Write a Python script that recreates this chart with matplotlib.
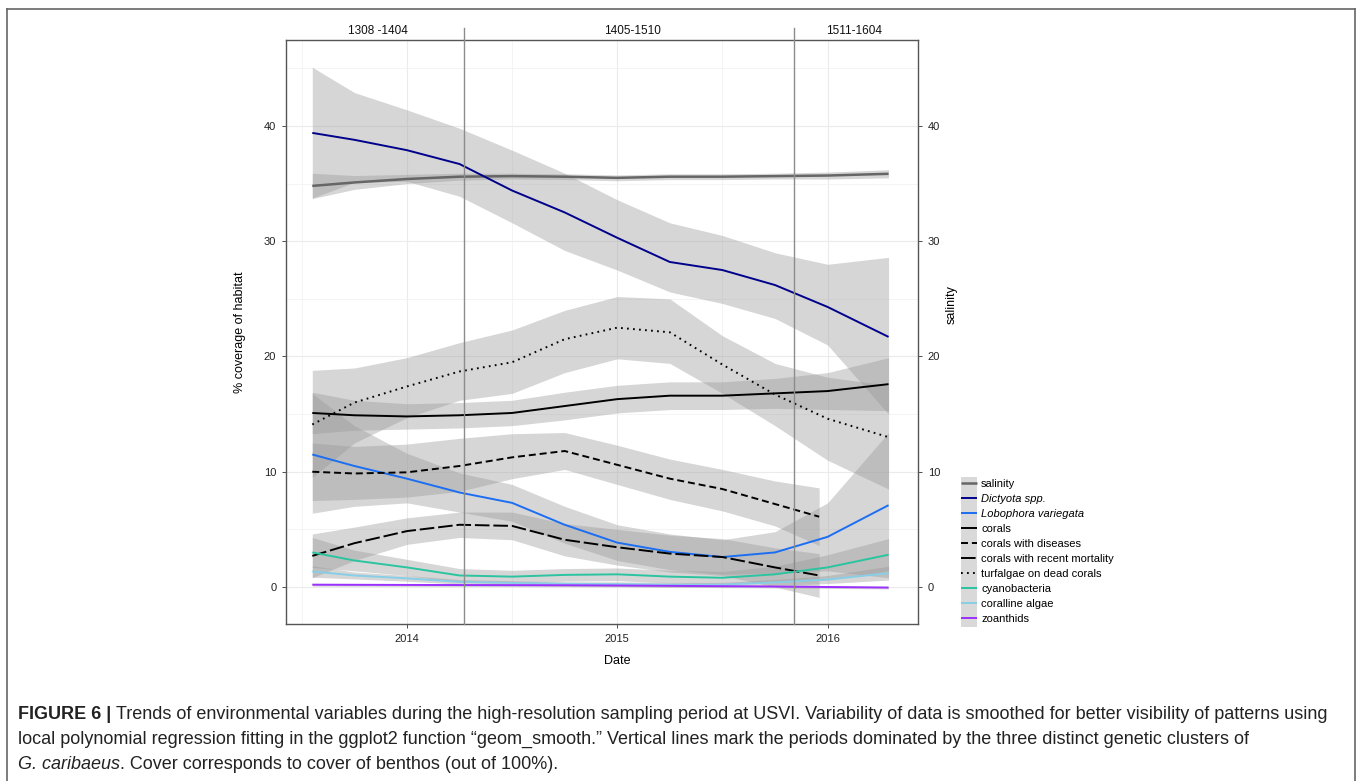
import numpy as np
import matplotlib
matplotlib.use('Agg')
import matplotlib.pyplot as plt
from matplotlib.lines import Line2D
from matplotlib.patches import Rectangle

plt.rcParams['font.family'] = ['Liberation Sans', 'DejaVu Sans']

W, H, DPI = 1360, 781, 100

# ---------------- data (decimal years) ----------------
t_full = [2013.55, 2013.75, 2014.0, 2014.25, 2014.5, 2014.75, 2015.0, 2015.25, 2015.5, 2015.75, 2016.0, 2016.29]
t_short = [2013.55, 2013.75, 2014.0, 2014.25, 2014.5, 2014.75, 2015.0, 2015.25, 2015.5, 2015.75, 2015.96]

salinity = [34.8, 35.1, 35.4, 35.6, 35.65, 35.6, 35.5, 35.6, 35.6, 35.65, 35.7, 35.85]
salinity_lo = [33.7, 34.5, 35.0, 35.3, 35.4, 35.35, 35.25, 35.35, 35.35, 35.4, 35.4, 35.5]
salinity_hi = [35.9, 35.7, 35.8, 35.9, 35.9, 35.85, 35.75, 35.85, 35.85, 35.9, 36.0, 36.2]

dictyota = [39.4, 38.8, 37.9, 36.7, 34.4, 32.5, 30.3, 28.2, 27.5, 26.2, 24.3, 21.7]
dictyota_lo = [33.75, 35.1, 35.2, 33.9, 31.6, 29.2, 27.5, 25.6, 24.6, 23.3, 21.0, 15.0]
dictyota_hi = [45.1, 42.9, 41.4, 39.8, 37.9, 35.9, 33.6, 31.6, 30.5, 29.0, 28.0, 28.6]

lobophora = [11.5, 10.5, 9.4, 8.2, 7.3, 5.4, 3.85, 3.05, 2.6, 3.0, 4.35, 7.1]
lobophora_lo = [6.4, 7.0, 7.3, 6.5, 5.7, 3.8, 2.3, 1.5, 1.1, 1.2, 1.4, 0.8]
lobophora_hi = [16.8, 14.0, 11.6, 9.9, 8.9, 7.0, 5.4, 4.6, 4.1, 4.8, 7.3, 13.4]

corals = [15.1, 14.9, 14.8, 14.9, 15.1, 15.7, 16.3, 16.6, 16.6, 16.8, 17.0, 17.6]
corals_lo = [13.3, 13.6, 13.7, 13.8, 14.0, 14.5, 15.1, 15.4, 15.4, 15.5, 15.4, 15.3]
corals_hi = [16.9, 16.2, 15.9, 16.0, 16.2, 16.9, 17.5, 17.8, 17.8, 18.1, 18.6, 19.9]

diseases = [10.0, 9.85, 9.95, 10.5, 11.25, 11.8, 10.6, 9.4, 8.5, 7.2, 6.1]
diseases_lo = [7.5, 7.6, 7.8, 8.3, 9.4, 10.2, 8.9, 7.6, 6.6, 5.3, 3.6]
diseases_hi = [12.5, 12.2, 12.4, 12.9, 13.3, 13.4, 12.3, 11.1, 10.2, 9.2, 8.6]

mortality = [2.7, 3.8, 4.85, 5.4, 5.3, 4.1, 3.45, 2.9, 2.6, 1.7, 1.0]
mortality_lo = [0.8, 2.3, 3.7, 4.3, 4.1, 2.7, 1.9, 1.3, 1.0, 0.0, -0.9]
mortality_hi = [4.6, 5.2, 6.0, 6.5, 6.5, 5.5, 5.0, 4.5, 4.2, 3.4, 2.9]

turf = [14.1, 16.0, 17.4, 18.7, 19.5, 21.5, 22.5, 22.1, 19.3, 16.7, 14.6, 13.0]
turf_lo = [9.5, 12.5, 14.7, 16.2, 16.8, 18.6, 19.8, 19.4, 16.8, 14.0, 11.0, 8.5]
turf_hi = [18.8, 19.0, 19.9, 21.2, 22.3, 24.0, 25.2, 25.0, 21.8, 19.4, 18.2, 17.5]

cyano = [3.0, 2.3, 1.7, 1.0, 0.9, 1.05, 1.1, 0.9, 0.8, 1.1, 1.7, 2.8]
cyano_lo = [1.7, 1.4, 1.0, 0.4, 0.35, 0.5, 0.55, 0.35, 0.25, 0.4, 0.6, 1.4]
cyano_hi = [4.3, 3.2, 2.4, 1.6, 1.45, 1.6, 1.65, 1.45, 1.35, 1.8, 2.8, 4.2]

coralline = [1.35, 1.0, 0.75, 0.45, 0.35, 0.28, 0.25, 0.2, 0.2, 0.4, 0.65, 1.2]
coralline_lo = [0.85, 0.7, 0.5, 0.25, 0.15, 0.1, 0.05, 0.0, 0.0, 0.15, 0.3, 0.6]
coralline_hi = [1.85, 1.3, 1.0, 0.65, 0.55, 0.45, 0.45, 0.4, 0.4, 0.65, 1.0, 1.8]

zoanthids = [0.2, 0.19, 0.18, 0.17, 0.16, 0.15, 0.13, 0.1, 0.07, 0.04, 0.0, -0.05]
zoanthids_lo = [0.08, 0.07, 0.06, 0.05, 0.04, 0.03, 0.01, -0.02, -0.05, -0.08, -0.12, -0.17]
zoanthids_hi = [0.32, 0.31, 0.30, 0.29, 0.28, 0.27, 0.25, 0.22, 0.19, 0.16, 0.12, 0.07]

cluster_breaks = [2014.27, 2015.84]
cluster_labels = ['1308 -1404', '1405-1510', '1511-1604']
cluster_label_x = [2013.862, 2015.071, 2016.128]

year_ticks = [2014, 2015, 2016]
year_labels = ['2014', '2015', '2016']

legend_labels = ['salinity', 'Dictyota spp.', 'Lobophora variegata', 'corals',
                 'corals with diseases', 'corals with recent mortality',
                 'turfalgae on dead corals', 'cyanobacteria', 'coralline algae', 'zoanthids']

# ---------------- styles ----------------
series = [
    (t_full, salinity, salinity_lo, salinity_hi, dict(color='#666666', lw=1.8)),
    (t_full, dictyota, dictyota_lo, dictyota_hi, dict(color='#00008B', lw=1.4)),
    (t_full, lobophora, lobophora_lo, lobophora_hi, dict(color='#1C6EF2', lw=1.4)),
    (t_full, corals, corals_lo, corals_hi, dict(color='black', lw=1.4)),
    (t_short, diseases, diseases_lo, diseases_hi, dict(color='black', lw=1.4, dashes=(3.6, 2.0))),
    (t_short, mortality, mortality_lo, mortality_hi, dict(color='black', lw=1.4, dashes=(7.5, 2.0))),
    (t_full, turf, turf_lo, turf_hi, dict(color='black', lw=1.4, dashes=(0.9, 2.2))),
    (t_full, cyano, cyano_lo, cyano_hi, dict(color='#2BC4A0', lw=1.4)),
    (t_full, coralline, coralline_lo, coralline_hi, dict(color='#87CEE6', lw=1.4)),
    (t_full, zoanthids, zoanthids_lo, zoanthids_hi, dict(color='#9B30FF', lw=1.4)),
]

fig = plt.figure(figsize=(W / DPI, H / DPI), dpi=DPI)
ax = fig.add_axes([286 / W, 1 - 624 / H, (918 - 286) / W, (624 - 40) / H])

for tx, v, lo, hi, st in series:
    ax.fill_between(tx, lo, hi, color='#999999', alpha=0.4, lw=0, zorder=2)
for tx, v, lo, hi, st in series:
    ax.plot(tx, v, solid_capstyle='butt', dash_capstyle='butt', zorder=3, **st)

ax.set_xticks(year_ticks)
ax.set_xticklabels(year_labels)
ax.set_xticks([2013.5, 2014.5, 2015.5], minor=True)
ax.set_yticks([0, 10, 20, 30, 40])
ax.set_yticks([5, 15, 25, 35, 45], minor=True)
ax.set_xlim(2013.425, 2016.43)
ax.set_ylim(-3.21, 47.46)

ax.grid(which='major', color='#EBEBEB', lw=0.8, zorder=0)
ax.grid(which='minor', color='#F3F3F3', lw=0.6, zorder=0)
ax.set_axisbelow(True)
ax.tick_params(which='major', length=3, width=0.6, color='#333333', labelsize=8,
               labelcolor='#222222', pad=4, right=True, labelright=True)
ax.tick_params(which='minor', length=0)
for s in ax.spines.values():
    s.set_color('#555555')
    s.set_linewidth(1.0)

for xb in cluster_breaks:
    ax.plot([xb, xb], [-3.21, 48.5], color='#8C8C8C', lw=1.0, clip_on=False, zorder=4)
for lab, lx in zip(cluster_labels, cluster_label_x):
    ax.text(lx, 48.2, lab, ha='center', va='center', fontsize=8.5, color='#111111', clip_on=False)

ax.set_xlabel('Date', fontsize=9, va='center')
ax.xaxis.set_label_coords((617 - 286) / 632, (624 - 661) / 584)
ax.set_ylabel('% coverage of habitat', fontsize=9, va='center')
ax.yaxis.set_label_coords((240 - 286) / 632, 0.5)
fig.text(952 / W, 1 - 305 / H, 'salinity', rotation=90, ha='center', va='center', fontsize=9)

# legend
handles = [Line2D([], [], solid_capstyle='butt', dash_capstyle='butt', **st)
           for tx, v, lo, hi, st in series]
leg = fig.legend(handles, legend_labels, loc='upper left',
                 bbox_to_anchor=(961 / W, 1 - 479 / H), frameon=False, fontsize=8,
                 handlelength=1.45, labelspacing=0.445,
                 handletextpad=0.35, borderpad=0, borderaxespad=0)
leg.get_texts()[1].set_fontstyle('italic')
leg.get_texts()[2].set_fontstyle('italic')

# outer frame
for xs, ys in [([7, 1355], [9, 9]), ([7, 7], [9, 781]), ([1355, 1355], [9, 781])]:
    fig.add_artist(Line2D([x / W for x in xs], [1 - y / H for y in ys], color='#666666', lw=1.2))

fig.canvas.draw()
r = fig.canvas.get_renderer()

# grey key background column behind legend keys
lb = leg.get_window_extent(renderer=r)
key_w = 1.45 * 8 * DPI / 72
fig.add_artist(Rectangle((lb.x0 / W, (lb.y0 - 3) / H), key_w / W, (lb.height + 5) / H,
                         transform=fig.transFigure, facecolor='#D9D9D9', edgecolor='none', zorder=0))

# caption
cap_fam = ['Liberation Sans Narrow', 'Liberation Sans']

def width_of(s, fs, **kw):
    t = fig.text(0, 0, s, fontsize=fs, family=cap_fam, **kw)
    w = t.get_window_extent(renderer=r).width
    t.remove()
    return w

line1_bold = 'FIGURE 6 |'
line1_rest = ('Trends of environmental variables during the high-resolution sampling period at USVI. '
              'Variability of data is smoothed for better visibility of patterns using')
line2 = ('local polynomial regression fitting in the ggplot2 function \u201cgeom_smooth.\u201d Vertical lines '
         'mark the periods dominated by the three distinct genetic clusters of')
line3_it = 'G. caribaeus'
line3_rest = '. Cover corresponds to cover of benthos (out of 100%).'

fs0 = 12
sp0 = width_of('a a', fs0) - width_of('aa', fs0)
tot = width_of(line1_bold, fs0, weight='bold') + sp0 + width_of(line1_rest, fs0)
fs = fs0 * (1333 - 18) / tot
sp = width_of('a a', fs) - width_of('aa', fs)

def put(x, y, s, **kw):
    t = fig.text(x / W, 1 - y / H, s, fontsize=fs, family=cap_fam, ha='left', va='baseline',
                 color='#222222', **kw)
    return x + t.get_window_extent(renderer=r).width

x = put(18, 719, line1_bold, weight='bold')
put(x + sp, 719, line1_rest)
put(18, 744, line2)
x = put(18, 769, line3_it, style='italic')
put(x, 769, line3_rest)

fig.savefig('out.png', dpi=DPI)
